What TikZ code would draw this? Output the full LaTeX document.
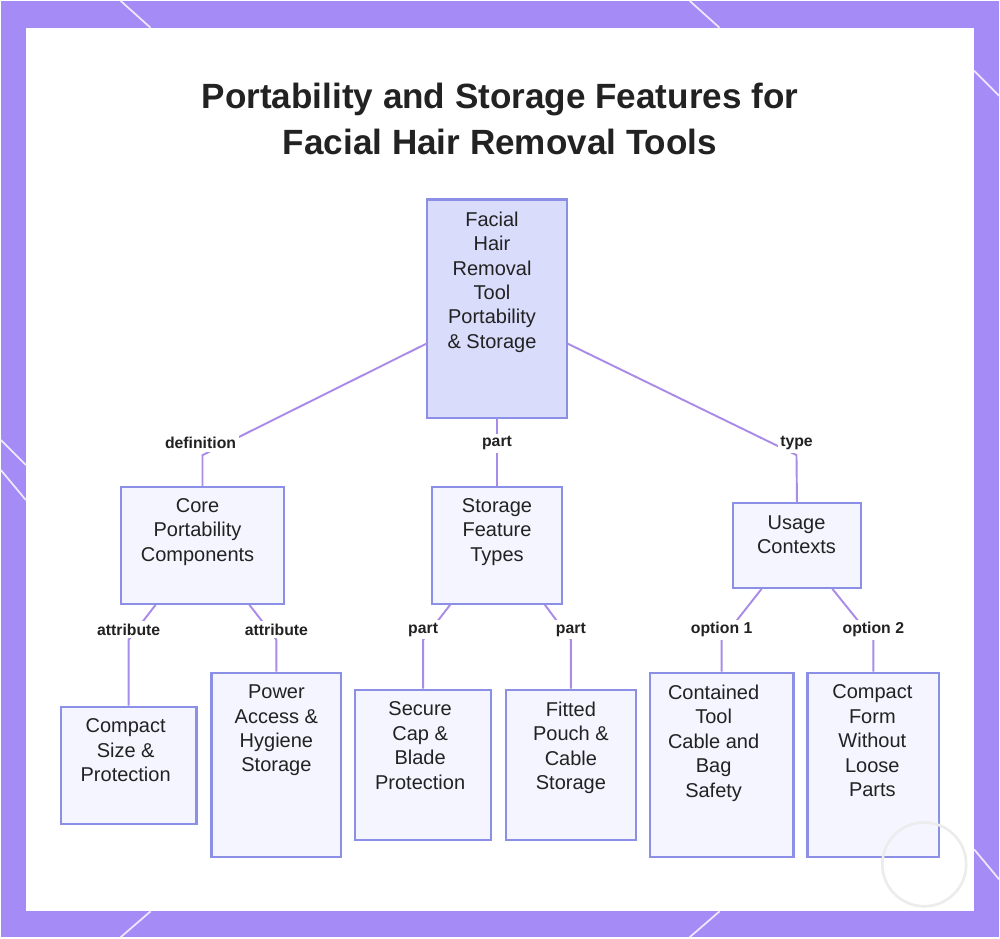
\documentclass[tikz,border=0pt]{standalone}
\usepackage{fontspec}
\setmainfont{Liberation Sans}
\begin{document}
\begin{tikzpicture}[x=0.02cm,y=-0.02cm,
 box/.style={draw=bx,fill=bf,line width=1.2pt,inner sep=0pt},
 tx/.style={anchor=north,align=center,inner sep=0pt,yshift=-3*0.02cm,font=\fontsize{11.4}{13.9}\selectfont,text=txt},
 lbl/.style={fill=white,inner sep=1.5pt,font=\bfseries\fontsize{9}{11}\selectfont,text=txt},
 edge/.style={draw=ln,line width=1.1pt}]
\definecolor{bord}{HTML}{A48BF6}
\definecolor{bx}{HTML}{8C8FE6}
\definecolor{bf}{HTML}{F4F5FF}
\definecolor{rf}{HTML}{D9DCFB}
\definecolor{ln}{HTML}{A98BE8}
\definecolor{txt}{HTML}{222222}
\fill[bord] (0,0) rectangle (1000,938);
\fill[white] (25,27) rectangle (975,912);
\foreach \a/\b/\c/\d in {120/0/150/27, 690/0/720/27, 0/440/25/465, 0/470/25/500, 975/70/1000/95, 975/850/1000/880, 120/938/150/912, 690/938/720/912}
  \draw[white!80!bord,line width=1pt] (\a,\b)--(\c,\d);
\useasboundingbox (0,0) rectangle (1000,938);
\node[font=\bfseries\fontsize{20}{26}\selectfont,align=center,text=txt] (title) at (500,118) {Portability and Storage Features for\\Facial Hair Removal Tools};
\node[box,fill=rf,minimum width=140*0.02cm,minimum height=219*0.02cm] (root) at (497,308.5) {};
\node[box,minimum width=164*0.02cm,minimum height=117*0.02cm] (core) at (202,545.5) {};
\node[box,minimum width=130*0.02cm,minimum height=117*0.02cm] (stor) at (497,545.5) {};
\node[box,minimum width=129*0.02cm,minimum height=85*0.02cm] (use) at (797.5,545.5) {};
\node[box,minimum width=136*0.02cm,minimum height=118*0.02cm] (cs) at (128,766) {};
\node[box,minimum width=130*0.02cm,minimum height=185*0.02cm] (pw) at (276,765.5) {};
\node[box,minimum width=136*0.02cm,minimum height=151*0.02cm] (sc) at (423,765.5) {};
\node[box,minimum width=130*0.02cm,minimum height=151*0.02cm] (fp) at (571,765.5) {};
\node[box,minimum width=144*0.02cm,minimum height=185*0.02cm] (ct) at (722,765.5) {};
\node[box,minimum width=132*0.02cm,minimum height=185*0.02cm] (cf) at (874,765.5) {};
\node[tx] (troot) at (492,208) {Facial\\Hair\\Removal\\Tool\\Portability\\\& Storage};
\node[tx] (tcore) at (197,495) {Core\\Portability\\Components};
\node[tx] (tstor) at (497,495) {Storage\\Feature\\Types};
\node[tx] (tuse) at (797,512) {Usage\\Contexts};
\node[tx] (tcs) at (125,716) {Compact\\Size \&\\Protection};
\node[tx] (tpw) at (276,682) {Power\\Access \&\\Hygiene\\Storage};
\node[tx] (tsc) at (420,699) {Secure\\Cap \&\\Blade\\Protection};
\node[tx] (tfp) at (571,699) {Fitted\\Pouch \&\\Cable\\Storage};
\node[tx] (tct) at (714,682) {Contained\\Tool\\Cable and\\Bag\\Safety};
\node[tx] (tcf) at (873,682) {Compact\\Form\\Without\\Loose\\Parts};
\coordinate (r1) at (427,343); \coordinate (r3) at (567,343);
\coordinate (k1) at (202,455); \coordinate (k3) at (797,455);
\draw[edge] (r1) -- (k1) -- (core.north);
\node[lbl] at (200,443) {definition};
\draw[edge] (root.south) -- (stor.north);
\node[lbl] at (497,443) {part};
\draw[edge] (r3) -- (k3) -- (use.north);
\node[lbl] at (797,443) {type};
\foreach \s/\sx/\t/\tx/\l in {core/155/cs/128/attribute, core/249/pw/276/attribute, stor/450/sc/423/part, stor/545/fp/571/part, use/762/ct/722/option 1, use/833/cf/874/option 2}{
  \draw[edge] (\s.south -| \sx,0) -- (\tx,640) -- (\t.north);
  \node[lbl] at (\tx,630) {\l};
}
\draw[white!85!gray,line width=1.5pt] (925,865) circle (42);
\end{tikzpicture}
\end{document}
